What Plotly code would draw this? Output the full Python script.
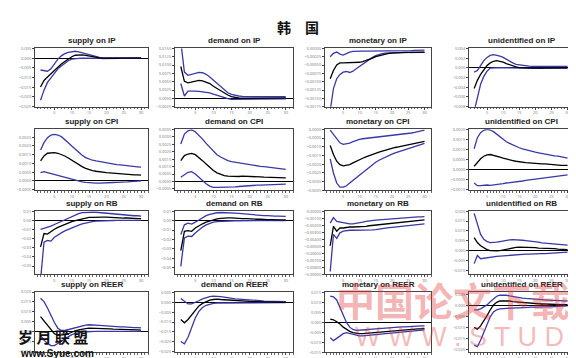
import numpy as np
import plotly.graph_objects as go

W, H = 576, 358
horizon = list(range(1, 31))
x_ticks = [5, 10, 15, 20, 25, 30]

# ---------- data (in units of each panel's tick step) ----------
supply_IP_lo = [-4.34,-3.3,-2.5,-2.0,-1.55,-1.1,-0.8,-0.5,-0.27,-0.1,-0.03,-0.02,-0.01,0,0,-0.01,-0.02,-0.03,-0.04,-0.05,-0.06,-0.06,-0.05,-0.03,-0.02,-0.01,0,0,0,0]
supply_IP_mid = [-2.98,-2.3,-1.95,-1.6,-1.3,-0.9,-0.6,-0.35,-0.1,0.15,0.3,0.35,0.33,0.28,0.2,0.12,0.06,0.02,0.0,-0.02,-0.02,-0.02,-0.01,0,0,0,0.01,0.01,0.01,0.01]
supply_IP_hi = [-1.22,-1.29,-1.35,-1.1,-0.6,-0.1,0.24,0.47,0.6,0.68,0.71,0.65,0.55,0.45,0.35,0.25,0.15,0.08,0.04,0.02,0.02,0.02,0.02,0.03,0.03,0.03,0.03,0.03,0.03,0.03]

demand_IP_lo = [1.78,0.28,0.87,0.91,0.87,0.83,0.79,0.75,0.67,0.51,0.36,0.2,0.08,-0.04,-0.12,-0.12,-0.12,-0.11,-0.1,-0.1,-0.09,-0.08,-0.08,-0.07,-0.07,-0.06,-0.06,-0.05,-0.05,-0.05]
demand_IP_mid = [3.83,2.05,1.86,1.98,2.1,2.17,2.1,1.98,1.78,1.46,1.19,0.91,0.59,0.4,0.2,0.08,0.04,0.03,0.03,0.03,0.04,0.04,0.05,0.05,0.05,0.05,0.05,0.05,0.05,0.05]
demand_IP_hi = [6.8,3.16,2.77,2.89,3.04,3.12,3.08,2.89,2.57,2.17,1.78,1.38,0.99,0.67,0.47,0.36,0.28,0.24,0.2,0.2,0.2,0.2,0.2,0.2,0.2,0.2,0.2,0.2,0.2,0.2]

monetary_IP_lo = [-7.5,-4.82,-3.64,-3.12,-2.85,-2.77,-2.89,-2.73,-2.45,-2.17,-1.86,-1.54,-1.3,-1.07,-0.87,-0.71,-0.63,-0.57,-0.53,-0.51,-0.5,-0.5,-0.49,-0.49,-0.48,-0.48,-0.48,-0.47,-0.47,-0.47]
monetary_IP_mid = [-3.64,-2.65,-1.98,-1.74,-1.74,-1.74,-1.74,-1.74,-1.7,-1.66,-1.58,-1.46,-1.3,-1.15,-0.99,-0.87,-0.75,-0.67,-0.59,-0.55,-0.51,-0.49,-0.48,-0.47,-0.46,-0.45,-0.45,-0.44,-0.44,-0.43]
monetary_IP_hi = [-0.99,-0.59,-0.43,-0.67,-0.79,-0.59,-0.43,-0.36,-0.32,-0.32,-0.32,-0.32,-0.32,-0.32,-0.32,-0.32,-0.32,-0.32,-0.32,-0.32,-0.31,-0.3,-0.29,-0.28,-0.27,-0.25,-0.23,-0.2,-0.2,-0.2]

unid_IP_lo = [-4.5,-2.92,-1.69,-0.88,-0.34,-0.03,0,0.02,0.02,0.01,0,-0.01,-0.02,-0.03,-0.04,-0.04,-0.04,-0.04,-0.04,-0.04,-0.04,-0.04,-0.03,-0.03,-0.03,-0.03,-0.03,-0.03,-0.03,-0.03]
unid_IP_mid = [-2.14,-1.29,-0.68,-0.2,0.24,0.51,0.68,0.75,0.68,0.58,0.44,0.31,0.2,0.1,0.03,0,-0.01,-0.02,-0.02,-0.02,-0.02,-0.02,-0.02,-0.01,-0.01,-0.01,-0.01,-0.01,-0.01,-0.01]
unid_IP_hi = [-0.44,-0.27,0.24,0.75,1.08,1.29,1.36,1.32,1.22,1.08,0.88,0.68,0.51,0.37,0.31,0.24,0.2,0.17,0.16,0.15,0.15,0.15,0.15,0.15,0.15,0.15,0.15,0.15,0.15,0.15]

supply_CPI_lo = [0.95,1.06,0.95,0.84,0.72,0.65,0.57,0.46,0.34,0.23,0.11,0,-0.11,-0.17,-0.23,-0.25,-0.27,-0.27,-0.23,-0.23,-0.21,-0.19,-0.17,-0.17,-0.13,-0.11,-0.08,-0.08,-0.04,0]
supply_CPI_mid = [2.28,2.85,3.16,3.23,3.23,3.16,3.04,2.85,2.62,2.36,2.09,1.86,1.63,1.44,1.29,1.18,1.1,1.03,0.99,0.95,0.91,0.87,0.84,0.8,0.76,0.72,0.72,0.68,0.68,0.65]
supply_CPI_hi = [3.54,4.37,4.94,5.25,5.32,5.25,5.06,4.75,4.37,3.99,3.61,3.23,2.93,2.66,2.47,2.36,2.28,2.2,2.13,2.05,1.98,1.9,1.87,1.83,1.77,1.71,1.67,1.63,1.6,1.56]

demand_CPI_lo = [0.58,0.93,1.24,1.33,1.02,0.58,0.13,-0.31,-0.62,-0.8,-0.8,-0.8,-0.8,-0.76,-0.76,-0.71,-0.67,-0.62,-0.58,-0.53,-0.53,-0.49,-0.49,-0.47,-0.44,-0.44,-0.4,-0.4,-0.4,-0.36]
demand_CPI_mid = [2.8,3.47,3.69,3.78,3.6,3.24,2.8,2.36,1.91,1.47,1.16,0.93,0.8,0.71,0.67,0.67,0.67,0.71,0.71,0.67,0.62,0.62,0.62,0.58,0.58,0.58,0.53,0.53,0.49,0.49]
demand_CPI_hi = [5.02,6.36,6.8,6.93,6.67,6.22,5.69,5.11,4.58,4.04,3.6,3.29,3.02,2.8,2.67,2.58,2.49,2.4,2.31,2.22,2.16,2.09,2.04,2.0,1.93,1.87,1.82,1.78,1.71,1.64]

monetary_CPI_lo = [-3.38,-5.0,-6.15,-6.62,-6.62,-6.46,-6.15,-5.85,-5.54,-5.23,-4.92,-4.62,-4.31,-4.04,-3.77,-3.54,-3.35,-3.15,-3.0,-2.85,-2.69,-2.58,-2.46,-2.35,-2.23,-2.12,-2.0,-1.88,-1.77,-1.62]
monetary_CPI_mid = [-1.85,-2.88,-3.65,-4.04,-4.19,-4.15,-4.04,-3.85,-3.65,-3.46,-3.31,-3.15,-3.0,-2.85,-2.73,-2.62,-2.5,-2.38,-2.27,-2.15,-2.08,-2.0,-1.92,-1.85,-1.77,-1.69,-1.62,-1.54,-1.46,-1.38]
monetary_CPI_hi = [-0.08,-0.58,-1.08,-1.54,-1.73,-1.69,-1.58,-1.42,-1.27,-1.15,-1.08,-1.04,-1.0,-0.96,-0.92,-0.88,-0.85,-0.81,-0.77,-0.73,-0.69,-0.65,-0.58,-0.54,-0.46,-0.42,-0.35,-0.27,-0.19,-0.08]

unid_CPI_lo = [-1.33,-1.6,-1.6,-1.53,-1.53,-1.57,-1.53,-1.53,-1.47,-1.4,-1.33,-1.3,-1.27,-1.23,-1.17,-1.13,-1.07,-1.03,-1.0,-0.93,-0.9,-0.83,-0.8,-0.77,-0.73,-0.7,-0.67,-0.63,-0.6,-0.53]
unid_CPI_mid = [0.33,0.73,1.07,1.33,1.47,1.5,1.43,1.33,1.23,1.13,1.03,0.97,0.9,0.83,0.77,0.73,0.7,0.67,0.63,0.6,0.6,0.57,0.57,0.53,0.53,0.47,0.47,0.43,0.43,0.43]
unid_CPI_hi = [2.07,3.17,3.67,3.9,4.0,3.93,3.77,3.5,3.23,3.0,2.77,2.6,2.43,2.3,2.17,2.07,1.97,1.87,1.8,1.73,1.67,1.6,1.53,1.47,1.43,1.37,1.33,1.27,1.2,1.13]

supply_RB_lo = [-6.5,-2.39,-2.21,-2.28,-1.86,-1.58,-1.37,-1.16,-0.98,-0.81,-0.67,-0.53,-0.39,-0.28,-0.21,-0.14,-0.1,-0.07,-0.04,-0.04,-0.02,-0.02,-0.01,-0.01,0,0,0,0,0,0]
supply_RB_mid = [-2.91,-1.44,-1.5,-1.2,-0.98,-0.77,-0.6,-0.42,-0.28,-0.14,-0.04,0.07,0.18,0.25,0.32,0.32,0.35,0.35,0.35,0.35,0.32,0.32,0.28,0.28,0.25,0.25,0.21,0.21,0.18,0.18]
supply_RB_hi = [-0.98,-0.88,-0.81,-0.63,-0.46,-0.28,-0.1,0.07,0.25,0.42,0.6,0.74,0.84,0.88,0.88,0.88,0.88,0.84,0.81,0.77,0.74,0.7,0.67,0.63,0.6,0.56,0.53,0.5,0.5,0.46]

demand_RB_lo = [-4.86,-1.83,-1.66,-1.69,-1.31,-0.97,-0.69,-0.45,-0.28,-0.17,-0.1,-0.07,-0.05,-0.03,-0.03,-0.02,-0.02,-0.02,-0.01,-0.01,-0.01,-0.01,0,0,0,0,0,0,0,0]
demand_RB_mid = [-3.2,-1.14,-1.07,-1.14,-0.79,-0.55,-0.34,-0.17,-0.03,0.07,0.17,0.24,0.28,0.28,0.28,0.24,0.24,0.21,0.21,0.17,0.17,0.14,0.14,0.1,0.1,0.1,0.07,0.07,0.07,0.07]
demand_RB_hi = [-1.48,-0.45,-0.28,-0.38,-0.17,0.07,0.31,0.52,0.66,0.76,0.83,0.86,0.86,0.86,0.83,0.79,0.76,0.72,0.69,0.66,0.62,0.59,0.55,0.52,0.52,0.48,0.48,0.48,0.45,0.45]

monetary_RB_lo = [-8.6,-3.32,-3.87,-3.09,-2.86,-2.76,-2.72,-2.72,-2.72,-2.76,-2.76,-2.76,-2.72,-2.67,-2.63,-2.54,-2.49,-2.4,-2.35,-2.3,-2.26,-2.22,-2.17,-2.12,-2.08,-2.03,-1.94,-1.89,-1.84,-1.8]
monetary_RB_mid = [-4.93,-2.17,-2.86,-2.4,-2.4,-2.3,-2.26,-2.26,-2.26,-2.26,-2.22,-2.17,-2.08,-2.03,-1.94,-1.89,-1.84,-1.8,-1.75,-1.7,-1.66,-1.61,-1.57,-1.52,-1.47,-1.43,-1.38,-1.33,-1.29,-1.24]
monetary_RB_hi = [-1.7,-0.92,-1.47,-1.57,-1.66,-1.75,-1.8,-1.8,-1.75,-1.66,-1.57,-1.47,-1.38,-1.33,-1.29,-1.24,-1.2,-1.15,-1.11,-1.06,-1.01,-0.99,-0.96,-0.92,-0.88,-0.87,-0.83,-0.82,-0.8,-0.78]

unid_RB_lo = [-1.32,-0.49,-0.82,-0.76,-0.72,-0.66,-0.62,-0.59,-0.56,-0.53,-0.49,-0.46,-0.43,-0.39,-0.39,-0.36,-0.36,-0.36,-0.33,-0.33,-0.33,-0.3,-0.3,-0.28,-0.28,-0.26,-0.23,-0.23,-0.2,-0.16]
unid_RB_mid = [1.32,0.82,0.49,0.26,0.1,0,-0.03,-0.03,0,0.07,0.16,0.23,0.3,0.33,0.36,0.36,0.36,0.33,0.33,0.3,0.26,0.26,0.23,0.23,0.2,0.2,0.16,0.16,0.13,0.1]
unid_RB_hi = [3.78,2.63,1.64,1.15,0.92,0.82,0.82,0.86,0.92,0.99,1.05,1.09,1.12,1.12,1.09,1.05,1.02,0.99,0.94,0.89,0.86,0.79,0.76,0.72,0.69,0.66,0.62,0.59,0.59,0.56]

supply_REER_lo = [-0.39,-0.88,-1.21,-1.43,-1.43,-1.21,-0.98,-0.72,-0.49,-0.33,-0.23,-0.13,-0.07,-0.03,0,0,0,0,0,0,0,0,0,0,0,0,0,0,0,0]
supply_REER_mid = [1.5,1.07,0.59,0.1,-0.23,-0.39,-0.39,-0.33,-0.23,-0.07,0.07,0.16,0.26,0.29,0.33,0.33,0.33,0.29,0.29,0.26,0.26,0.23,0.23,0.2,0.2,0.2,0.16,0.16,0.16,0.13]
supply_REER_hi = [3.36,3.03,2.38,1.56,0.91,0.33,0.1,0.1,0.2,0.26,0.36,0.49,0.59,0.65,0.68,0.68,0.65,0.62,0.59,0.55,0.52,0.49,0.49,0.46,0.46,0.42,0.42,0.39,0.39,0.36]

demand_REER_lo = [-4.0,-4.23,-3.57,-2.57,-1.57,-0.9,-0.5,-0.27,-0.13,-0.07,-0.03,-0.03,-0.02,-0.02,-0.01,-0.01,0,0,0,0,0,0,0,0,0,0,0,0,0,0]
demand_REER_mid = [-1.73,-2.07,-1.73,-1.23,-0.73,-0.33,-0.07,0.13,0.27,0.33,0.37,0.33,0.3,0.27,0.23,0.2,0.17,0.17,0.13,0.13,0.1,0.1,0.1,0.07,0.07,0.07,0.07,0.03,0.03,0.03]
demand_REER_hi = [0.43,0.1,-0.13,-0.13,0,0.2,0.4,0.53,0.63,0.67,0.67,0.63,0.57,0.5,0.43,0.4,0.37,0.33,0.3,0.27,0.23,0.2,0.2,0.17,0.17,0.13,0.13,0.13,0.1,0.1]

monetary_REER_lo = [-1.55,-1.84,-1.61,-1.35,-1.13,-1.03,-1.1,-1.2,-1.3,-1.35,-1.35,-1.32,-1.28,-1.25,-1.22,-1.18,-1.15,-1.1,-1.06,-1.02,-0.98,-0.95,-0.92,-0.9,-0.87,-0.85,-0.82,-0.8,-0.77,-0.75]
monetary_REER_mid = [0.32,0.26,0.06,-0.16,-0.48,-0.71,-0.9,-1.03,-1.1,-1.13,-1.13,-1.1,-1.06,-1.03,-1.0,-0.97,-0.94,-0.9,-0.87,-0.84,-0.81,-0.77,-0.77,-0.74,-0.71,-0.71,-0.68,-0.65,-0.65,-0.61]
monetary_REER_hi = [2.65,2.58,2.26,1.45,0.65,0,-0.48,-0.71,-0.81,-0.81,-0.77,-0.74,-0.71,-0.68,-0.65,-0.61,-0.58,-0.55,-0.52,-0.5,-0.48,-0.48,-0.45,-0.45,-0.42,-0.42,-0.39,-0.39,-0.35,-0.35]

unid_REER_lo = [-3.57,-3.71,-3.13,-2.41,-1.68,-1.01,-0.58,-0.38,-0.29,-0.26,-0.26,-0.23,-0.23,-0.2,-0.2,-0.17,-0.17,-0.14,-0.14,-0.14,-0.12,-0.12,-0.12,-0.09,-0.09,-0.09,-0.06,-0.06,-0.06,-0.03]
unid_REER_mid = [-1.97,-2.12,-1.83,-1.39,-0.9,-0.38,0.06,0.29,0.41,0.43,0.43,0.41,0.35,0.32,0.29,0.26,0.23,0.2,0.2,0.17,0.17,0.14,0.14,0.12,0.12,0.12,0.09,0.09,0.09,0.09]
unid_REER_hi = [-0.38,-0.38,-0.29,-0.14,0.06,0.35,0.64,0.84,0.93,0.96,0.93,0.87,0.81,0.75,0.7,0.67,0.64,0.61,0.58,0.55,0.52,0.52,0.49,0.49,0.46,0.46,0.43,0.43,0.43,0.41]

shocks = ["supply", "demand", "monetary", "unidentified"]
variables = ["IP", "CPI", "RB", "REER"]

# (lo, mid, hi, y-range in tick units, tick step, tick format)
panels = [
    (supply_IP_lo, supply_IP_mid, supply_IP_hi, (-5, 1), 0.005, ".3f"),
    (demand_IP_lo, demand_IP_mid, demand_IP_hi, (-1, 6), 0.0025, ".4f"),
    (monetary_IP_lo, monetary_IP_mid, monetary_IP_hi, (-7, 0), 0.00025, ".5f"),
    (unid_IP_lo, unid_IP_mid, unid_IP_hi, (-4, 2), 0.002, ".3f"),
    (supply_CPI_lo, supply_CPI_mid, supply_CPI_hi, (-1.1, 5.9), 0.0005, ".4f"),
    (demand_CPI_lo, demand_CPI_mid, demand_CPI_hi, (-1.2, 7), 0.0005, ".4f"),
    (monetary_CPI_lo, monetary_CPI_mid, monetary_CPI_hi, (-7, 0), 0.0005, ".4f"),
    (unid_CPI_lo, unid_CPI_mid, unid_CPI_hi, (-2.07, 4), 0.0005, ".4f"),
    (supply_RB_lo, supply_RB_mid, supply_RB_hi, (-5.9, 1), 0.01, ".2f"),
    (demand_RB_lo, demand_RB_mid, demand_RB_hi, (-5.7, 1), 0.01, ".2f"),
    (monetary_RB_lo, monetary_RB_mid, monetary_RB_hi, (-9, 0), 0.001, ".5f"),
    (unid_RB_lo, unid_RB_mid, unid_RB_hi, (-2.4, 4), 0.005, ".3f"),
    (supply_REER_lo, supply_REER_mid, supply_REER_hi, (-2.1, 4), 0.005, ".3f"),
    (demand_REER_lo, demand_REER_mid, demand_REER_hi, (-5.1, 1.1), 0.005, ".3f"),
    (monetary_REER_lo, monetary_REER_mid, monetary_REER_hi, (-3, 3.06), 0.005, ".3f"),
    (unid_REER_lo, unid_REER_mid, unid_REER_hi, (-4.2, 1.22), 0.005, ".3f"),
]

# panel pixel boxes
col_px = [(27, 140), (167, 285), (317, 423), (461, 566)]
row_px = [(38, 97), (120, 182), (203, 267), (285, 346)]

BLUE = "#3838a8"
fig = go.Figure()
layout = {}
annotations = []

for i, (lo, mid, hi, yr, step, fmt) in enumerate(panels):
    r, c = divmod(i, 4)
    n = "" if i == 0 else str(i + 1)
    xa, ya = "x" + n, "y" + n
    for vals, color in ((lo, BLUE), (hi, BLUE), (mid, "black")):
        fig.add_trace(go.Scatter(x=horizon, y=np.array(vals) * step, mode="lines",
                                 line=dict(color=color, width=1.3),
                                 xaxis=xa, yaxis=ya, showlegend=False, hoverinfo="skip"))
    x0, x1 = col_px[c]
    y0, y1 = row_px[r]
    layout["xaxis" + n] = dict(
        domain=[x0 / W, x1 / W], anchor=ya, range=[-0.6, 32],
        tickvals=x_ticks, ticks="outside", ticklen=2, tickcolor="#444",
        tickfont=dict(size=4, color="#777"),
        minor=dict(dtick=1, tick0=0, ticks="outside", ticklen=1.5, tickcolor="#666"),
        showgrid=False, zeroline=False, showline=True, mirror=True,
        linecolor="#444", linewidth=1)
    layout["yaxis" + n] = dict(
        domain=[1 - y1 / H, 1 - y0 / H], anchor=xa,
        range=[yr[0] * step, yr[1] * step], tick0=0, dtick=step, tickformat=fmt,
        ticks="outside", ticklen=2, tickcolor="#444",
        tickfont=dict(size=4, color="#777"),
        showgrid=False, zeroline=True, zerolinecolor="black", zerolinewidth=1,
        showline=True, mirror=True, linecolor="#444", linewidth=1)
    annotations.append(dict(
        text="<b>%s on %s</b>" % (shocks[c], variables[r]),
        x=(x0 + x1) / 2 / W, y=1 - (y0 - 1) / H, xref="paper", yref="paper",
        xanchor="center", yanchor="bottom", showarrow=False,
        font=dict(family="Liberation Sans", size=8, color="#222")))

annotations.append(dict(text="<b>韩　国</b>", x=290 / W, y=1 - 16 / H, xref="paper", yref="paper",
                        xanchor="center", yanchor="middle", showarrow=False,
                        font=dict(family="Noto Sans CJK SC", size=14, color="#111")))
# watermarks
annotations.append(dict(text="<b>中国论文下载</b>", x=326 / W, y=1 - 292 / H, xref="paper", yref="paper",
                        xanchor="left", yanchor="middle", showarrow=False,
                        font=dict(family="Noto Sans CJK SC", size=39, color="rgba(225,60,60,0.38)")))
annotations.append(dict(text="W W W . S T U D A .", x=345 / W, y=1 - 331 / H, xref="paper", yref="paper",
                        xanchor="left", yanchor="middle", showarrow=False,
                        font=dict(family="Liberation Sans", size=27, color="rgba(225,60,60,0.36)")))
annotations.append(dict(text="<b>岁 月 联 盟</b>", x=8 / W, y=1 - 330 / H, xref="paper", yref="paper",
                        xanchor="left", yanchor="middle", showarrow=False,
                        font=dict(family="Noto Sans CJK SC", size=15, color="#111")))
annotations.append(dict(text="<b>www.Syue.com</b>", x=10 / W, y=1 - 347 / H, xref="paper", yref="paper",
                        xanchor="left", yanchor="middle", showarrow=False,
                        font=dict(family="Liberation Sans", size=10, color="#111")))

fig.update_layout(width=W, height=H, margin=dict(l=0, r=0, t=0, b=0),
                  paper_bgcolor="white", plot_bgcolor="white",
                  annotations=annotations, **layout)
fig.write_html("out.html")
